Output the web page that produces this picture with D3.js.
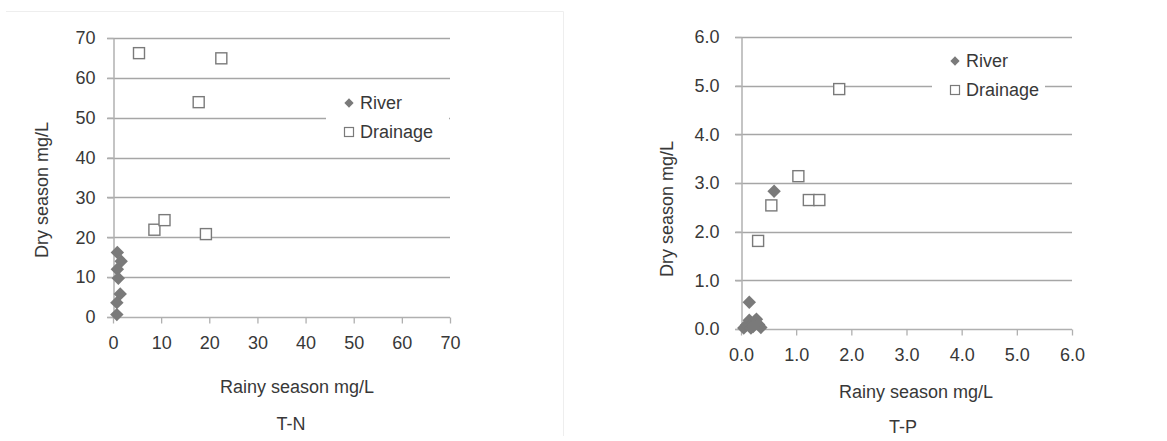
<!DOCTYPE html>
<html>
<head>
<meta charset="utf-8">
<script src="https://cdn.jsdelivr.net/npm/d3@7"></script>
<style>
  body { margin: 0; background: #fff; }
  svg { display: block; font-family: "Liberation Sans", Arial, sans-serif; }
</style>
</head>
<body>
<svg width="1167" height="441"></svg>
<script>
// T-N panel (mg/L)
const tnRiver = [
  [0.9, 16.2], [1.7, 14.0], [0.9, 12.0], [1.1, 9.7], [1.5, 5.8], [0.8, 3.6], [0.8, 0.6]
];
const tnDrainage = [
  [5.4, 66.2], [22.5, 64.9], [17.8, 53.9], [8.6, 21.9], [10.7, 24.3], [19.3, 20.8]
];
const tnTicks = [0, 10, 20, 30, 40, 50, 60, 70];

// T-P panel (mg/L)
const tpRiver = [
  [0.15, 0.55], [0.6, 2.83], [0.05, 0.02], [0.1, 0.08], [0.15, 0.18], [0.2, 0.1],
  [0.25, 0.16], [0.28, 0.2], [0.32, 0.09], [0.36, 0.03], [0.18, 0.02], [0.22, 0.05]
];
const tpDrainage = [
  [1.78, 4.93], [1.04, 3.14], [0.55, 2.54], [0.31, 1.81], [1.23, 2.65], [1.42, 2.65]
];
const tpTicks = [0, 1, 2, 3, 4, 5, 6];

const seriesNames = ['River', 'Drainage'];

const svg = d3.select('svg');
const textColor = '#383838';
const gridColor = '#a6a6a6';
const markColor = '#7a7a7a';
const fontSize = '18px';

// faint frame seen on the source page
svg.append('path')
  .attr('d', 'M6 11.5 H563.5 V436')
  .attr('fill', 'none')
  .attr('stroke', '#eeeeee');

const diamond = d3.symbol().type(d3.symbolDiamond2);

const panels = [
  {
    river: tnRiver, drainage: tnDrainage, ticks: tnTicks, fmt: d3.format('d'),
    xr: [113, 450], yr: [317, 38], title: 'T-N',
    yTitleX: 42, yTitleY: 190, xTitleX: 297, xTitleY: 387, titleX: 291, titleY: 424,
    legend: { x: 326, y: 88, w: 123, h: 58 }, labelPad: 12
  },
  {
    river: tpRiver, drainage: tpDrainage, ticks: tpTicks, fmt: d3.format('.1f'),
    xr: [741, 1072], yr: [329, 37], title: 'T-P',
    yTitleX: 667, yTitleY: 209, xTitleX: 916, xTitleY: 392, titleX: 903, titleY: 427,
    legend: { x: 932, y: 46, w: 113, h: 60 }, labelPad: 16
  }
];

panels.forEach((p) => {
  const dom = [p.ticks[0], p.ticks[p.ticks.length - 1]];
  const x = d3.scaleLinear().domain(dom).range(p.xr);
  const y = d3.scaleLinear().domain(dom).range(p.yr);
  const g = svg.append('g');

  // horizontal gridlines (extend a little left of the axis as tick marks)
  g.append('g')
    .selectAll('line')
    .data(p.ticks.slice(1))
    .join('line')
    .attr('x1', p.xr[0] - 6)
    .attr('x2', p.xr[1])
    .attr('y1', (d) => Math.round(y(d)) + 0.5)
    .attr('y2', (d) => Math.round(y(d)) + 0.5)
    .attr('stroke', gridColor)
    .attr('stroke-width', 1.3);

  const yAxis = g.append('g')
    .attr('transform', `translate(${p.xr[0] + 0.5},0)`)
    .call(d3.axisLeft(y).tickValues(p.ticks).tickFormat(p.fmt)
      .tickSize(6).tickSizeOuter(0).tickPadding(p.labelPad));

  const xAxis = g.append('g')
    .attr('transform', `translate(0,${Math.round(p.yr[0]) + 0.5})`)
    .call(d3.axisBottom(x).tickValues(p.ticks).tickFormat(p.fmt)
      .tickSize(6).tickSizeOuter(0).tickPadding(13));

  [yAxis, xAxis].forEach((ax) => {
    ax.select('.domain').attr('stroke', '#b0b0b0').attr('stroke-width', 1.5);
    ax.selectAll('.tick line').attr('stroke', '#b0b0b0').attr('stroke-width', 1.3);
    ax.selectAll('.tick text')
      .attr('fill', textColor)
      .style('font-size', fontSize);
  });
  xAxis.select('.domain').attr('d', `M${p.xr[0] - 6},0H${p.xr[1]}`);

  // legend box covers the gridline behind it
  g.append('rect')
    .attr('x', p.legend.x).attr('y', p.legend.y)
    .attr('width', p.legend.w).attr('height', p.legend.h)
    .attr('fill', '#fff');

  // drainage squares
  g.append('g')
    .selectAll('rect')
    .data(p.drainage)
    .join('rect')
    .attr('x', (d) => x(d[0]) - 5.5)
    .attr('y', (d) => y(d[1]) - 5.5)
    .attr('width', 11)
    .attr('height', 11)
    .attr('fill', '#fff')
    .attr('stroke', markColor)
    .attr('stroke-width', 1.4);

  // river diamonds
  g.append('g')
    .selectAll('path')
    .data(p.river)
    .join('path')
    .attr('transform', (d) => `translate(${x(d[0])},${y(d[1])})`)
    .attr('d', diamond.size(115))
    .attr('fill', markColor);

  // legend
  const lx = p.legend.x + 23;
  const ly = p.legend.y + 15;
  const leg = g.append('g');
  leg.append('path')
    .attr('transform', `translate(${lx},${ly})`)
    .attr('d', d3.symbol().type(d3.symbolDiamond2).size(55)())
    .attr('fill', markColor);
  leg.append('rect')
    .attr('x', lx - 4.5).attr('y', ly + 29 - 4.5)
    .attr('width', 9).attr('height', 9)
    .attr('fill', '#fff')
    .attr('stroke', markColor)
    .attr('stroke-width', 1.2);
  leg.selectAll('text')
    .data(seriesNames)
    .join('text')
    .attr('x', lx + 11)
    .attr('y', (d, i) => ly + i * 29)
    .attr('dy', '0.35em')
    .attr('fill', textColor)
    .style('font-size', fontSize)
    .text((d) => d);

  // axis titles
  g.append('text')
    .attr('x', p.xTitleX)
    .attr('y', p.xTitleY)
    .attr('dy', '0.35em')
    .attr('text-anchor', 'middle')
    .attr('fill', textColor)
    .style('font-size', fontSize)
    .text('Rainy season mg/L');

  g.append('text')
    .attr('transform', `translate(${p.yTitleX},${p.yTitleY}) rotate(-90)`)
    .attr('dy', '0.35em')
    .attr('text-anchor', 'middle')
    .attr('fill', textColor)
    .style('font-size', fontSize)
    .text('Dry season mg/L');

  g.append('text')
    .attr('x', p.titleX)
    .attr('y', p.titleY)
    .attr('dy', '0.35em')
    .attr('text-anchor', 'middle')
    .attr('fill', textColor)
    .style('font-size', fontSize)
    .text(p.title);
});
</script>
</body>
</html>
